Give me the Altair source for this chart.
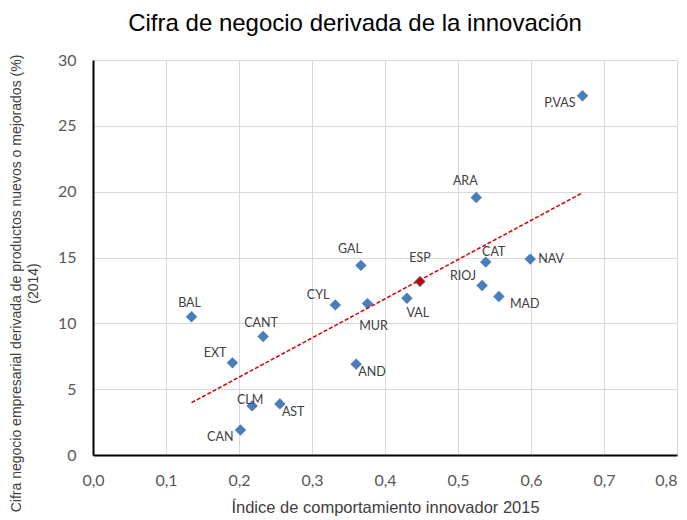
import altair as alt
import pandas as pd

# ---- data ----
regions = ["BAL", "EXT", "CANT", "CLM", "AST", "CAN", "CYL", "GAL", "MUR",
           "AND", "VAL", "ARA", "CAT", "NAV", "RIOJ", "MAD", "P.VAS"]
innovation_index = [0.135, 0.191, 0.233, 0.218, 0.256, 0.202, 0.332, 0.367, 0.376,
                    0.3605, 0.430, 0.525, 0.538, 0.599, 0.533, 0.556, 0.6705]
innovative_turnover = [10.5, 7.0, 9.0, 3.73, 3.88, 1.9, 11.4, 14.4, 11.5,
                       6.9, 11.9, 19.56, 14.65, 14.88, 12.87, 12.04, 27.28]
spain_name = "ESP"
spain_index = 0.448
spain_turnover = 13.18

x_ticks = [0.0, 0.1, 0.2, 0.3, 0.4, 0.5, 0.6, 0.7, 0.8]
y_ticks = [0, 5, 10, 15, 20, 25, 30]

chart_title = "Cifra de negocio derivada de la innovación"
x_title = "Índice de comportamiento  innovador 2015"
y_title = ["Cifra negocio empresarial derivada de productos nuevos o mejorados (%)", "(2014)"]

df = pd.DataFrame({
    "name": regions + [spain_name],
    "x": innovation_index + [spain_index],
    "y": innovative_turnover + [spain_turnover],
    "total": [False] * len(regions) + [True],
})

BLUE = "#4a7ebb"
RED = "#c00000"
TEXT_FONT = "Liberation Sans, Arial, sans-serif"
LABEL_FONT = "Lato, Liberation Sans, sans-serif"

xs = alt.Scale(domain=[0, 0.8], nice=False)
ys = alt.Scale(domain=[0, 30], nice=False)

x_axis = alt.Axis(
    values=x_ticks, grid=True, ticks=False, tickSize=0, labelFlush=False,
    labelExpr="replace(format(datum.value, '.1f'), '.', ',')",
    labelAlign=alt.condition("datum.value >= 0.75", alt.value("right"), alt.value("center")),
    labelFont=LABEL_FONT, labelFontSize=16, labelColor="#595959", labelPadding=17,
    title=x_title,
    titleFont=TEXT_FONT, titleFontSize=16.5, titleFontWeight="normal", titleColor="#404040",
    titlePadding=11,
)
y_axis = alt.Axis(
    values=y_ticks, grid=True, ticks=False, tickSize=0, labelFlush=False,
    labelFont=LABEL_FONT, labelFontSize=16, labelColor="#595959", labelPadding=17,
    title=y_title,
    titleFont=TEXT_FONT, titleFontSize=14, titleFontWeight="normal", titleColor="#404040",
    titleLineHeight=17, titleAngle=270, titleAlign="center", titleBaseline="top",
    titleX=-84, titleY=223,
)

base = alt.Chart(df)

points = base.mark_point(shape="diamond", filled=True, size=130, color=BLUE, opacity=1).encode(
    x=alt.X("x:Q", scale=xs, axis=x_axis),
    y=alt.Y("y:Q", scale=ys, axis=y_axis),
)

trend = base.transform_filter("!datum.total").transform_regression(
    "x", "y", method="linear"
).mark_line(color="#d40000", strokeWidth=1.5, strokeDash=[4, 2]).encode(
    x=alt.X("x:Q", scale=xs), y=alt.Y("y:Q", scale=ys)
)

spain = base.transform_filter("datum.total").mark_point(
    shape="diamond", filled=True, size=80, color=RED, opacity=1
).encode(x=alt.X("x:Q", scale=xs), y=alt.Y("y:Q", scale=ys))

# label placement groups: (names, align, dx, dy)
placements = [
    (["BAL", "CANT"], "center", -2, -14),
    (["ESP"], "center", 0, -23),
    (["CLM"], "center", -2, -6),
    (["GAL", "ARA"], "center", -11, -16),
    (["VAL"], "center", 11, 15),
    (["MUR"], "center", 6, 22),
    (["CAT"], "center", 8, -10),
    (["EXT", "CYL", "RIOJ"], "right", -6, -10),
    (["CAN", "P.VAS"], "right", -7, 7),
    (["NAV"], "left", 8, 0),
    (["AND", "AST"], "left", 2, 8),
    (["MAD"], "left", 11, 8),
]

label_layers = []
for names, align, dx, dy in placements:
    label_layers.append(
        base.transform_filter(alt.FieldOneOfPredicate(field="name", oneOf=names))
        .mark_text(align=align, baseline="middle", dx=dx, dy=dy,
                   font=LABEL_FONT, fontSize=12.5, color="#404040")
        .encode(x=alt.X("x:Q", scale=xs), y=alt.Y("y:Q", scale=ys), text="name:N")
    )

title_mark = alt.Chart(pd.DataFrame({"t": [chart_title]})).mark_text(
    align="center", baseline="alphabetic", font=TEXT_FONT, fontSize=24, color="#000000"
).encode(x=alt.value(262), y=alt.value(-29), text="t:N")

chart = alt.layer(points, trend, spain, *label_layers, title_mark).properties(
    width=584, height=395,
    autosize=alt.AutoSizeParams(type="none"),
    padding={"left": 85, "top": 52, "right": 2, "bottom": 63},
).configure_view(stroke=None).configure_axis(
    gridColor="#d9d9d9", gridWidth=1, domainColor="#000000", domainWidth=2,
)

chart.save("out.html", embed_options={"renderer": "svg", "actions": False})
